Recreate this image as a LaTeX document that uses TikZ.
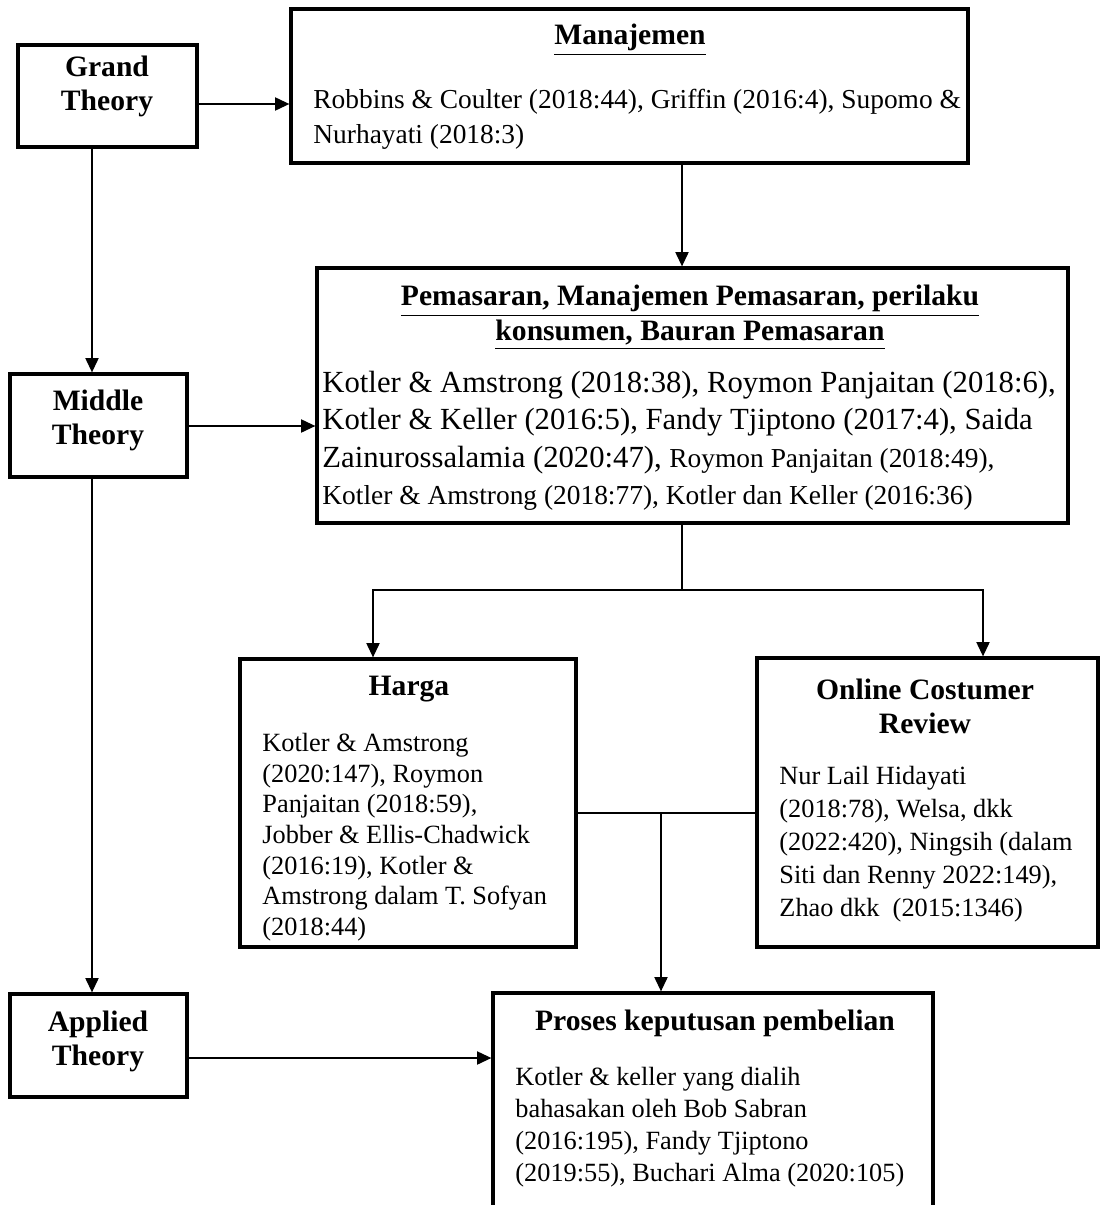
\documentclass[tikz,border=0pt]{standalone}
\usepackage{fontspec}
\setmainfont{Liberation Serif}
\usetikzlibrary{arrows.meta}

\newcommand{\pxu}{0.456pt}
\newcommand{\smtxt}{\fontsize{12.5}{15}\selectfont}

\tikzset{
  box/.style={draw, line width=1.5pt, inner sep=0pt},
  head/.style={font=\fontsize{13.5}{15.5}\selectfont\bfseries, align=center, inner sep=0pt},
  txt/.style={font=\fontsize{12}{14}\selectfont, anchor=west, inner sep=0pt, text height=0.75em, text depth=0.25em},
  bigtxt/.style={txt, font=\fontsize{14}{17}\selectfont},
  arr/.style={-{Triangle[length=6.5pt,width=6pt]}, line width=0.65pt},
  con/.style={line width=0.65pt}
}

\begin{document}
\begin{tikzpicture}[x=\pxu, y=-\pxu]
\clip (0,0) rectangle (1100,1205);

% Boxes
\node[box, minimum width=179*\pxu, minimum height=102*\pxu] (grand) at (107.5,96) {};
\node[box, minimum width=677*\pxu, minimum height=154*\pxu] (manaj) at (629.5,86) {};
\node[box, minimum width=751*\pxu, minimum height=255*\pxu] (pemas) at (692.5,395.5) {};
\node[box, minimum width=177*\pxu, minimum height=103*\pxu] (middle) at (98.5,425.5) {};
\node[box, minimum width=336*\pxu, minimum height=288*\pxu] (harga) at (408,803) {};
\node[box, minimum width=341*\pxu, minimum height=289*\pxu] (ocr) at (927.5,802.5) {};
\node[box, minimum width=177*\pxu, minimum height=103*\pxu] (applied) at (98.5,1045.5) {};
\node[box, minimum width=440*\pxu, minimum height=232*\pxu] (proses) at (713,1109) {};

% Theory labels
\node[head] (grandt) at (107,86) {Grand\\Theory};
\node[head] (middlet) at (98,420) {Middle\\Theory};
\node[head] (appliedt) at (98,1041) {Applied\\Theory};

% Titles
\node[head] (manajt) at (630,40) {\underline{Manajemen}};
\node[head, font=\fontsize{13.5}{16}\selectfont\bfseries] (pemast) at (690,317.5)
  {\underline{Pemasaran, Manajemen Pemasaran, perilaku}\\\underline{konsumen, Bauran Pemasaran}};
\node[head] (hargat) at (409,689) {Harga};
\node[head] (ocrt) at (925,706) {Online Costumer\\Review};
\node[head] (prosest) at (715,1023) {Proses keputusan pembelian};

% Text lines
\foreach \t [count=\i from 0] in {{Robbins \& Coulter (2018:44), Griffin (2016:4), Supomo \&}, {Nurhayati (2018:3)}}
  \node[txt, font=\smtxt] (manaj-\i) at (313,{103+35*\i}) {\t};

\foreach \t [count=\i from 0] in {{Kotler \& Amstrong (2018:38), Roymon Panjaitan (2018:6),},
    {Kotler \& Keller (2016:5), Fandy Tjiptono (2017:4), Saida},
    {Zainurossalamia (2020:47), {\smtxt Roymon Panjaitan (2018:49),}},
    {{\smtxt Kotler \& Amstrong (2018:77), Kotler dan Keller (2016:36)}}}
  \node[bigtxt] (pemas-\i) at (322,{387+37.3*\i}) {\t};

\foreach \t [count=\i from 0] in {{Kotler \& Amstrong}, {(2020:147), Roymon}, {Panjaitan (2018:59),},
    {Jobber \& Ellis-Chadwick}, {(2016:19), Kotler \&}, {Amstrong dalam T. Sofyan}, {(2018:44)}}
  \node[txt] (harga-\i) at (262,{746+30.7*\i}) {\t};

\foreach \t [count=\i from 0] in {{Nur Lail Hidayati}, {(2018:78), Welsa, dkk}, {(2022:420), Ningsih (dalam},
    {Siti dan Renny 2022:149),}, {Zhao dkk~ (2015:1346)}}
  \node[txt] (ocr-\i) at (779,{779+33*\i}) {\t};

\foreach \t [count=\i from 0] in {{Kotler \& keller yang dialih}, {bahasakan oleh Bob Sabran},
    {(2016:195), Fandy Tjiptono}, {(2019:55), Buchari Alma (2020:105)}}
  \node[txt] (proses-\i) at (515,{1080+32*\i}) {\t};

% Rows and columns of the connectors
\coordinate (r1) at (0,104);
\coordinate (r2) at (0,426);
\coordinate (r3) at (0,1058);
\coordinate (r4) at (0,813);
\coordinate (r5) at (0,590);
\coordinate (c1) at (92,0);
\coordinate (c2) at (682,0);
\coordinate (c3) at (373,0);
\coordinate (c4) at (983,0);
\coordinate (c5) at (661,0);

% Connectors
\draw[arr] (grand.east |- r1) -- (manaj.west |- r1);
\draw[arr] (grand.south -| c1) -- (middle.north -| c1);
\draw[arr] (middle.south -| c1) -- (applied.north -| c1);
\draw[arr] (middle.east |- r2) -- (pemas.west |- r2);
\draw[arr] (applied.east |- r3) -- (proses.west |- r3);
\draw[arr] (manaj.south -| c2) -- (pemas.north -| c2);
\draw[con] (pemas.south -| c2) -- (c2 |- r5);
\draw[arr] (c2 |- r5) -| (harga.north -| c3);
\draw[arr] (c2 |- r5) -| (ocr.north -| c4);
\draw[con] (harga.east |- r4) -- (ocr.west |- r4);
\draw[arr] (c5 |- r4) -- (proses.north -| c5);

\end{tikzpicture}
\end{document}
